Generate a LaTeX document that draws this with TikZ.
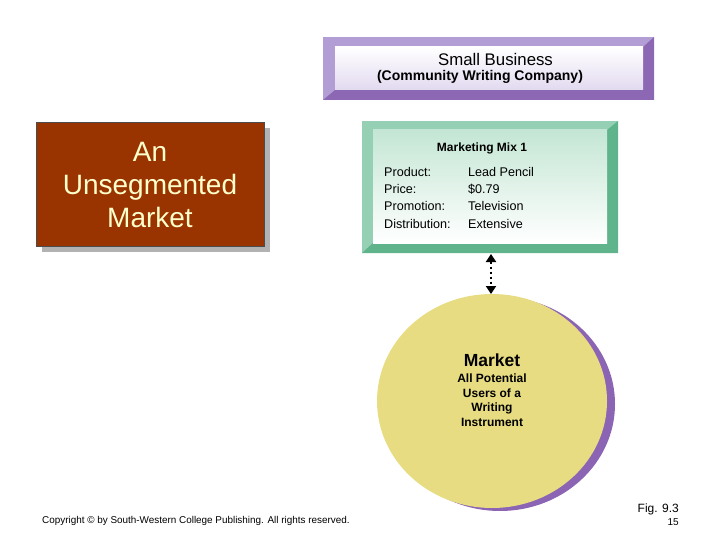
\documentclass[tikz,border=0pt]{standalone}
\usepackage{fontspec}
\setmainfont{Liberation Sans}
\usetikzlibrary{arrows.meta,shapes.geometric}
\definecolor{purlight}{RGB}{178,158,212}
\definecolor{purdark}{RGB}{140,104,180}
\definecolor{purface}{RGB}{226,218,240}
\definecolor{grnlight}{RGB}{150,208,180}
\definecolor{grndark}{RGB}{96,180,140}
\definecolor{grnface}{RGB}{196,230,212}
\definecolor{brownbox}{RGB}{153,51,0}
\definecolor{cream}{RGB}{255,255,204}
\definecolor{mktyellow}{RGB}{232,220,130}
\definecolor{mktshadow}{RGB}{140,100,180}
\tikzset{
  txt/.style={inner sep=0pt, text=black},
  oval/.style={ellipse, inner sep=0pt, minimum width=230pt, minimum height=214pt},
}
\begin{document}
\begin{tikzpicture}[x=1pt,y=-1pt]
\useasboundingbox (0,0) rectangle (720,540);
% Small Business bevel box
\fill[purlight] (323,37) rectangle (654,100);
\fill[purdark] (654,37) -- (654,100) -- (323,100) -- (335,90) -- (643,90) -- (643,47) -- cycle;
\shade[top color=white, bottom color=purface] (335,47) rectangle (643,90);
\node[txt, font=\fontsize{16.8}{18}\selectfont] (sb) at (495.5,59) {Small Business};
\node[txt, font=\bfseries\fontsize{14}{15}\selectfont] (cwc) at (480,77) {(Community Writing Company)};
% Unsegmented market box
\fill[gray!60] (42,128) rectangle (270,252);
\node[draw=black!70, line width=0.8pt, fill=brownbox, minimum width=228pt, minimum height=124pt, anchor=north west, inner sep=0pt] (um) at (36,122) {};
\node[text=cream, align=center, font=\fontsize{28}{33}\selectfont, inner sep=0pt] (umt) at (150,185) {An\\Unsegmented\\Market};
% Marketing mix bevel box
\fill[grnlight] (362,121) rectangle (618,253);
\fill[grndark] (618,121) -- (618,253) -- (362,253) -- (373,243) -- (607,243) -- (607,130) -- cycle;
\shade[top color=grnface, bottom color=white] (373,130) rectangle (607,243);
\coordinate (mmbottom) at (491,254);
\node[txt, font=\bfseries\fontsize{12}{13}\selectfont] (mmt) at (482,148) {Marketing Mix 1};
\node[txt, anchor=north west, align=left, font=\fontsize{12.6}{17.3}\selectfont] (labels) at (384,167) {Product:\\Price:\\Promotion:\\Distribution:};
\node[txt, anchor=north west, align=left, font=\fontsize{12.6}{17.3}\selectfont] (vals) at (468,167) {Lead Pencil\\\$0.79\\Television\\Extensive};
% Market circle
\node[oval, fill=mktshadow] (mktsh) at (500,404) {};
\node[oval, fill=mktyellow] (mktc) at (492,401) {};
\coordinate (mkttop) at (491,294);
\node[txt, font=\bfseries\fontsize{17.5}{18}\selectfont] (mkt) at (492,360) {Market};
\node[txt, align=center, font=\bfseries\fontsize{12}{14.4}\selectfont, anchor=north] (mktd) at (492,374) {All Potential\\Users of a\\Writing\\Instrument};
% dotted double arrow
\draw[line width=2.4pt, dash pattern=on 2.5pt off 2.5pt, {Triangle[length=8pt,width=10pt]}-{Triangle[length=8pt,width=10pt]}] (mmbottom) -- (mkttop);
% footer
\node[txt, anchor=west, font=\fontsize{9.9}{11}\selectfont] (copy) at (42,521) {Copyright © by South-Western College Publishing. All rights reserved.};
\node[txt, anchor=east, font=\fontsize{12}{13}\selectfont] (fig) at (679,509) {Fig. 9.3};
\node[txt, anchor=east, font=\fontsize{10}{11}\selectfont] (pg) at (679,522) {15};
\end{tikzpicture}
\end{document}
